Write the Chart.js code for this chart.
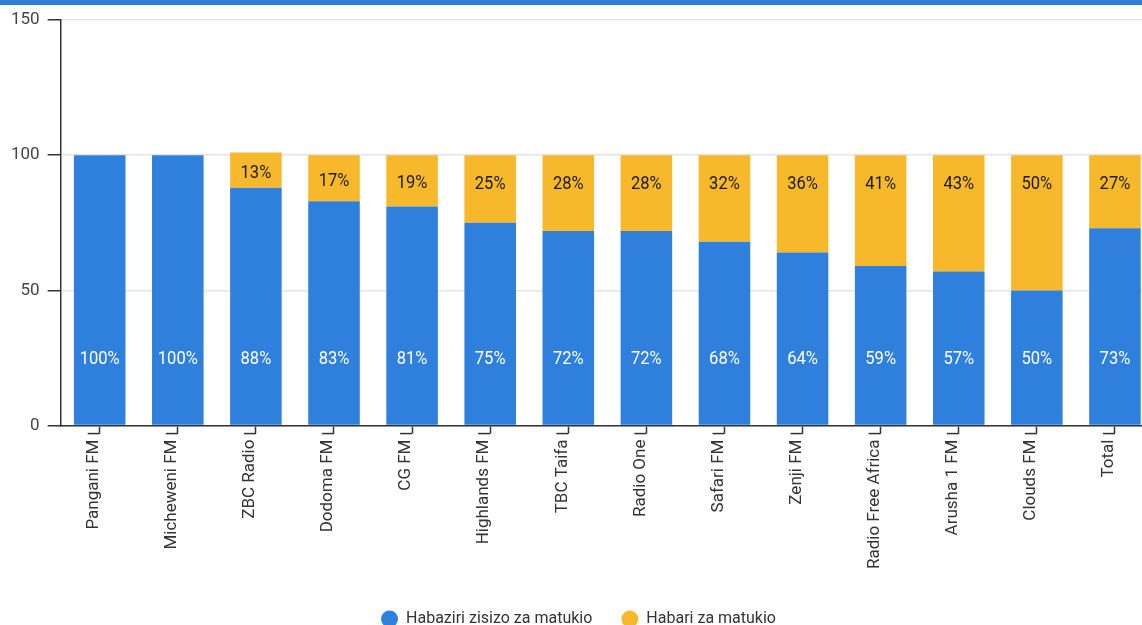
<!DOCTYPE html>
<html>
<head>
<meta charset="utf-8">
<title>Habari za matukio</title>
<script src="https://cdn.jsdelivr.net/npm/chart.js@4.4.0/dist/chart.umd.min.js"></script>
<style>
  html, body { margin:0; padding:0; background:#fff; overflow:hidden; }
  #topBar { position:absolute; left:0; top:0; width:100%; height:5px; background:#2f7ed8; z-index:2; }
  #wrap { position:absolute; left:0; top:0; width:1163px; height:637px; }
</style>
</head>
<body>
<div id="topBar"></div>
<div id="wrap"><canvas id="myChart"></canvas></div>
<script>
// categories and values
var stations = ['Pangani FM','Micheweni FM','ZBC Radio','Dodoma FM','CG FM','Highlands FM','TBC Taifa',
                'Radio One','Safari FM','Zenji FM','Radio Free Africa','Arusha 1 FM','Clouds FM','Total'];
var habaziriValues = [100,100,88,83,81,75,72,72,68,64,59,57,50,73];
var habariValues   = [0,0,13,17,19,25,28,28,32,36,41,43,50,27];
var seriesNames = ['Habaziri zisizo za matukio','Habari za matukio'];
var yTicks = [0,50,100,150];

var blueColor = '#2f7fdc';
var yellowColor = '#f7b92b';

// the reference uses a narrow font for the bar labels, so squeeze the text a bit
function drawNarrowText(ctx, text, x, y) {
  ctx.save();
  ctx.translate(x, y);
  ctx.scale(0.92, 1);
  ctx.fillText(text, 0, 0);
  ctx.restore();
}

// draws the % numbers inside the bars
var barLabels = {
  id: 'barLabels',
  afterDatasetsDraw: function(chart) {
    var ctx = chart.ctx;
    var yScale = chart.scales.y;
    ctx.save();
    ctx.textAlign = 'center';
    ctx.textBaseline = 'middle';
    ctx.font = '18px Roboto';
    chart.getDatasetMeta(0).data.forEach(function(bar, i) {
      ctx.fillStyle = '#ffffff';
      drawNarrowText(ctx, habaziriValues[i] + '%', bar.x, yScale.getPixelForValue(24.5));
    });
    chart.getDatasetMeta(1).data.forEach(function(bar, i) {
      if (!habariValues[i]) return;
      var center = (bar.y + bar.base) / 2 + 3;
      ctx.fillStyle = '#1a1a1a';
      drawNarrowText(ctx, habariValues[i] + '%', bar.x, Math.min(center, bar.y + 29));
    });
    ctx.restore();
  }
};

// little hook under every category tick
var tickHooks = {
  id: 'tickHooks',
  afterDraw: function(chart) {
    var ctx = chart.ctx;
    var xScale = chart.scales.x;
    var yBottom = chart.chartArea.bottom + 8;
    ctx.save();
    ctx.strokeStyle = '#333';
    ctx.lineWidth = 1.5;
    stations.forEach(function(s, i) {
      var x = xScale.getPixelForTick(i);
      ctx.beginPath();
      ctx.moveTo(x, yBottom);
      ctx.lineTo(x - 12, yBottom);
      ctx.stroke();
    });
    ctx.restore();
  }
};

const ctx = document.getElementById('myChart');
const myChart = new Chart(ctx, {
  type: 'bar',
  data: {
    labels: stations,
    datasets: [
      { label: seriesNames[0], data: habaziriValues, backgroundColor: blueColor,
        barPercentage: 0.66, categoryPercentage: 1.0 },
      { label: seriesNames[1], data: habariValues, backgroundColor: yellowColor,
        barPercentage: 0.66, categoryPercentage: 1.0 }
    ]
  },
  options: {
    responsive: true,
    maintainAspectRatio: false,
    animation: false,
    layout: { padding: { left: 3, top: 20, right: 9, bottom: 0 } },
    plugins: {
      tooltip: { enabled: false },
      legend: {
        position: 'bottom',
        labels: {
          usePointStyle: true,
          pointStyle: 'circle',
          boxHeight: 12,
          boxWidth: 17,
          pointStyleWidth: 17,
          padding: 29,
          color: '#333',
          font: { family: 'Roboto', size: 16 }
        }
      }
    },
    scales: {
      x: {
        stacked: true,
        afterFit: function(scale) { scale.height += 7; },
        grid: { offset: false, drawOnChartArea: false, drawTicks: true, tickLength: 8, tickColor: '#333', tickWidth: 1.5 },
        border: { color: '#333', width: 1.5 },
        ticks: { maxRotation: 90, minRotation: 90, padding: 6, labelOffset: -6, color: '#333',
                 font: { family: 'Roboto', size: 17 } }
      },
      y: {
        stacked: true,
        min: yTicks[0],
        max: yTicks[yTicks.length - 1],
        afterBuildTicks: function(axis) {
          axis.ticks = yTicks.map(function(v) { return { value: v }; });
        },
        grid: { color: '#e3e3e3', lineWidth: 1.5, tickLength: 13, tickColor: '#333', tickWidth: 1.5 },
        border: { color: '#333', width: 1.5 },
        ticks: { padding: 8, color: '#444', font: { family: 'Roboto', size: 17 } }
      }
    }
  },
  plugins: [barLabels, tickHooks]
});
</script>
</body>
</html>
